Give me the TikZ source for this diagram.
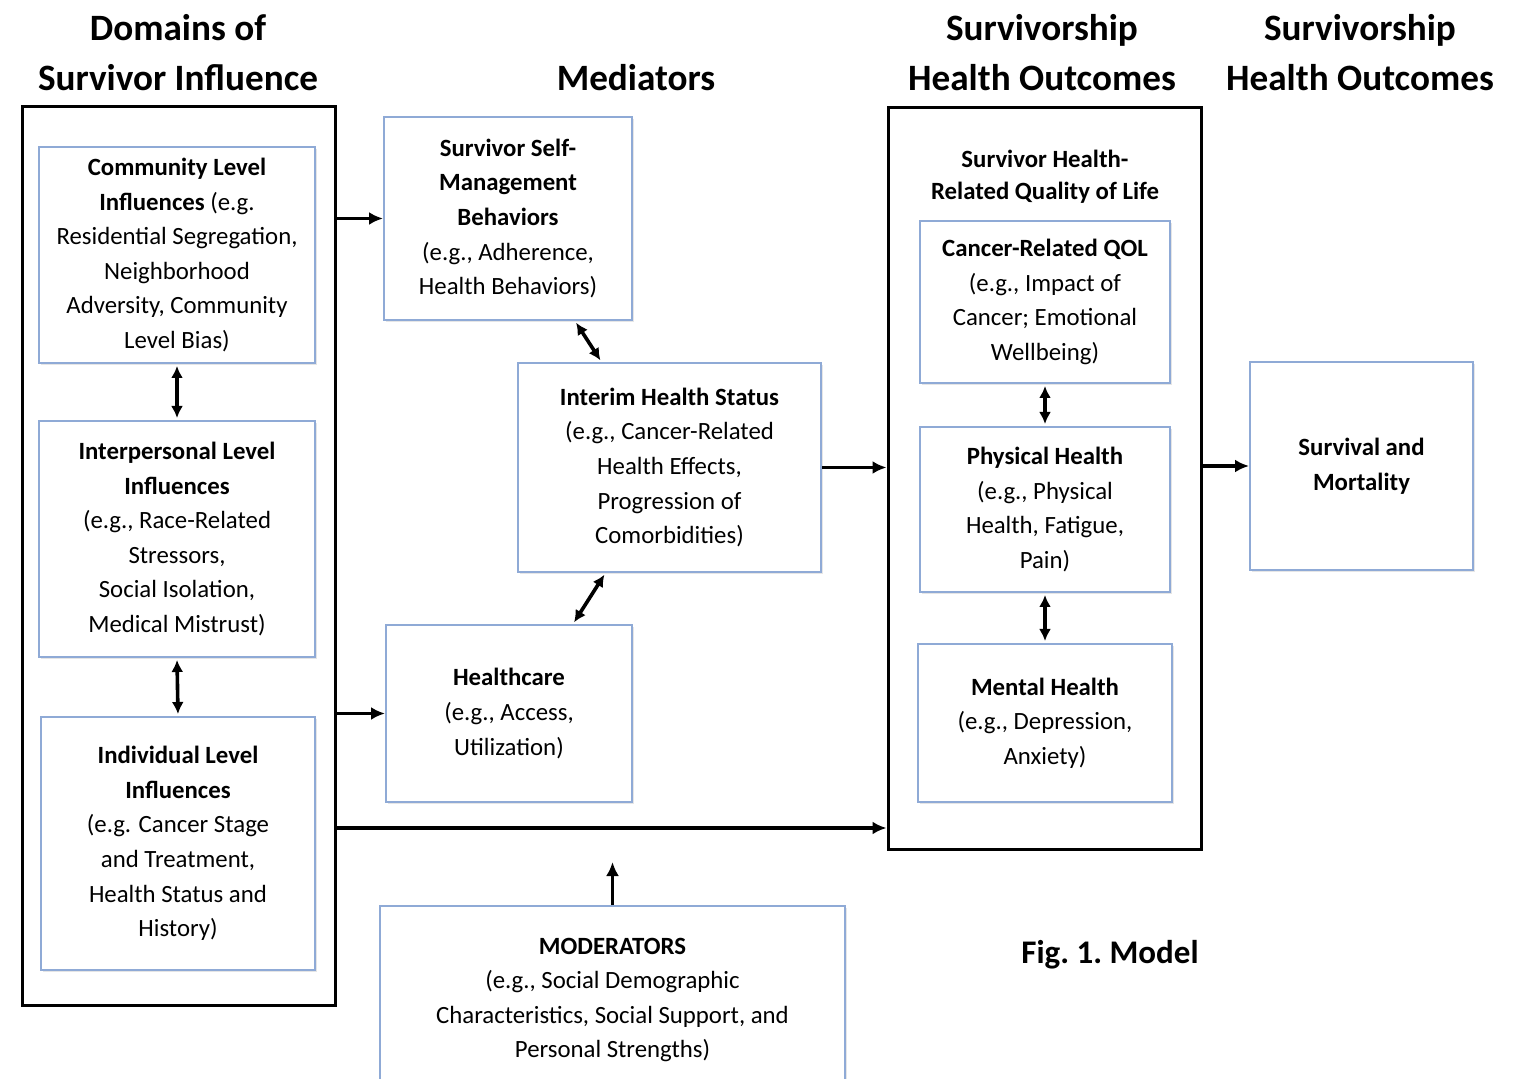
\documentclass[tikz,border=0pt]{standalone}
\usepackage{fontspec}
\setmainfont{Carlito}
\usepackage{xcolor}
\usetikzlibrary{positioning,shapes,shadows,arrows.meta}
\definecolor{boxblue}{RGB}{143,170,214}
\newcommand{\bodyfont}{\fontsize{12.4}{17.3}\selectfont}
\newcommand{\headfont}{\fontsize{18.6}{25}\selectfont\bfseries}

\begin{document}
\begin{tikzpicture}[x=0.5pt,y=-0.5pt,
  inbox/.style={draw=boxblue,line width=1pt,fill=white,align=center,font=\bodyfont,
    drop shadow={opacity=0.2,shadow xshift=1pt,shadow yshift=-1.2pt}},
  outbox/.style={draw=black,line width=1.5pt,
    drop shadow={opacity=0.2,shadow xshift=1pt,shadow yshift=-1.2pt},fill=white},
  arr/.style={-{Latex[length=7pt,width=6.5pt]},line width=1.8pt},
  dbl/.style={{Latex[length=6pt,width=6pt]}-{Latex[length=6pt,width=6pt]},line width=1.8pt,
    shorten >=1pt,shorten <=1pt}]
\tikzstyle{every node}+=[inner sep=0pt]
\useasboundingbox (0,0) rectangle (1516,1079);
% column headings
\node[align=center,font=\headfont] (hdom) at (178,53) {Domains of\\Survivor Influence};
\node[font=\headfont] (hmed) at (636,78) {Mediators};
\node[align=center,font=\headfont] (hout) at (1042,53) {Survivorship\\Health Outcomes};
\node[align=center,font=\headfont] (hsurv) at (1360,53) {Survivorship\\Health Outcomes};
% outer frames
\node[outbox,minimum width=156.5pt,minimum height=449pt] (domains) at (178.5,556) {};
\node[outbox,minimum width=156.5pt,minimum height=370.5pt] (outcomes) at (1044.5,478.5) {};
\node[align=center,font=\fontsize{12.4}{16}\selectfont\bfseries] (hqol) at (1045,177) {Survivor Health-\\Related Quality of Life};
% domains of influence
\node[inbox,minimum width=138pt,minimum height=108pt] (comm) at (177,255)
  {\textbf{Community Level}\\\textbf{Influences} (e.g.\\Residential Segregation,\\Neighborhood\\Adversity, Community\\Level Bias)};
\node[inbox,minimum width=138pt,minimum height=118pt] (inter) at (177,539)
  {\textbf{Interpersonal Level}\\\textbf{Influences}\\(e.g., Race-Related\\Stressors,\\Social Isolation,\\Medical Mistrust)};
\node[inbox,minimum width=137pt,minimum height=126.5pt] (indiv) at (178,843.5)
  {\textbf{Individual Level}\\\textbf{Influences}\\(e.g. Cancer Stage\\and Treatment,\\Health Status and\\History)};
% mediators
\node[inbox,minimum width=124pt,minimum height=101.5pt] (self) at (508,218.5)
  {\textbf{Survivor Self-}\\\textbf{Management}\\\textbf{Behaviors}\\(e.g., Adherence,\\Health Behaviors)};
\node[inbox,minimum width=151.5pt,minimum height=104.5pt] (interim) at (669.5,467.5)
  {\textbf{Interim Health Status}\\(e.g., Cancer-Related\\Health Effects,\\Progression of\\Comorbidities)};
\node[inbox,minimum width=123pt,minimum height=88.5pt] (hcare) at (509,713.5)
  {\textbf{Healthcare}\\(e.g., Access,\\Utilization)};
\node[inbox,minimum width=232.5pt,minimum height=94pt] (moder) at (612.5,1000)
  {\textbf{MODERATORS}\\(e.g., Social Demographic\\Characteristics, Social Support, and\\Personal Strengths)};
% outcomes
\node[inbox,minimum width=125pt,minimum height=81pt] (qol) at (1045,302)
  {\textbf{Cancer-Related QOL}\\(e.g., Impact of\\Cancer; Emotional\\Wellbeing)};
\node[inbox,minimum width=125pt,minimum height=82.5pt] (phys) at (1045,509.5)
  {\textbf{Physical Health}\\(e.g., Physical\\Health, Fatigue,\\Pain)};
\node[inbox,minimum width=127pt,minimum height=79pt] (mental) at (1045,723)
  {\textbf{Mental Health}\\(e.g., Depression,\\Anxiety)};
\node[inbox,minimum width=111.5pt,minimum height=104pt] (surv) at (1361.5,466)
  {\textbf{Survival and}\\\textbf{Mortality}};
\node[font=\fontsize{16.5}{20}\selectfont\bfseries] (figlbl) at (1110,955) {Fig.\ 1.\ Model};
% connectors
\coordinate (direct) at (612,828);
\coordinate (modtip) at (612.5,862);
\draw[dbl] (comm.south) -- (inter.north);
\draw[dbl] (inter.south) -- (indiv.north);
\draw[arr] (domains.east |- self.west) -- (self.west);
\draw[arr] (domains.east |- hcare.west) -- (hcare.west);
\draw[arr] (domains.east |- direct) -- (outcomes.west |- direct);
\draw[dbl] ([xshift=33.5pt]self.south) -- ([xshift=-34pt]interim.north);
\draw[dbl] ([xshift=-32pt]interim.south) -- ([xshift=32pt]hcare.north);
\draw[arr] (interim.east) -- (outcomes.west |- interim.east);
\draw[dbl] (qol.south) -- (phys.north);
\draw[dbl] (phys.south) -- (mental.north);
\draw[arr] (outcomes.east |- surv.west) -- (surv.west);
\draw[arr] (moder.north) -- (modtip);
\end{tikzpicture}
\end{document}
